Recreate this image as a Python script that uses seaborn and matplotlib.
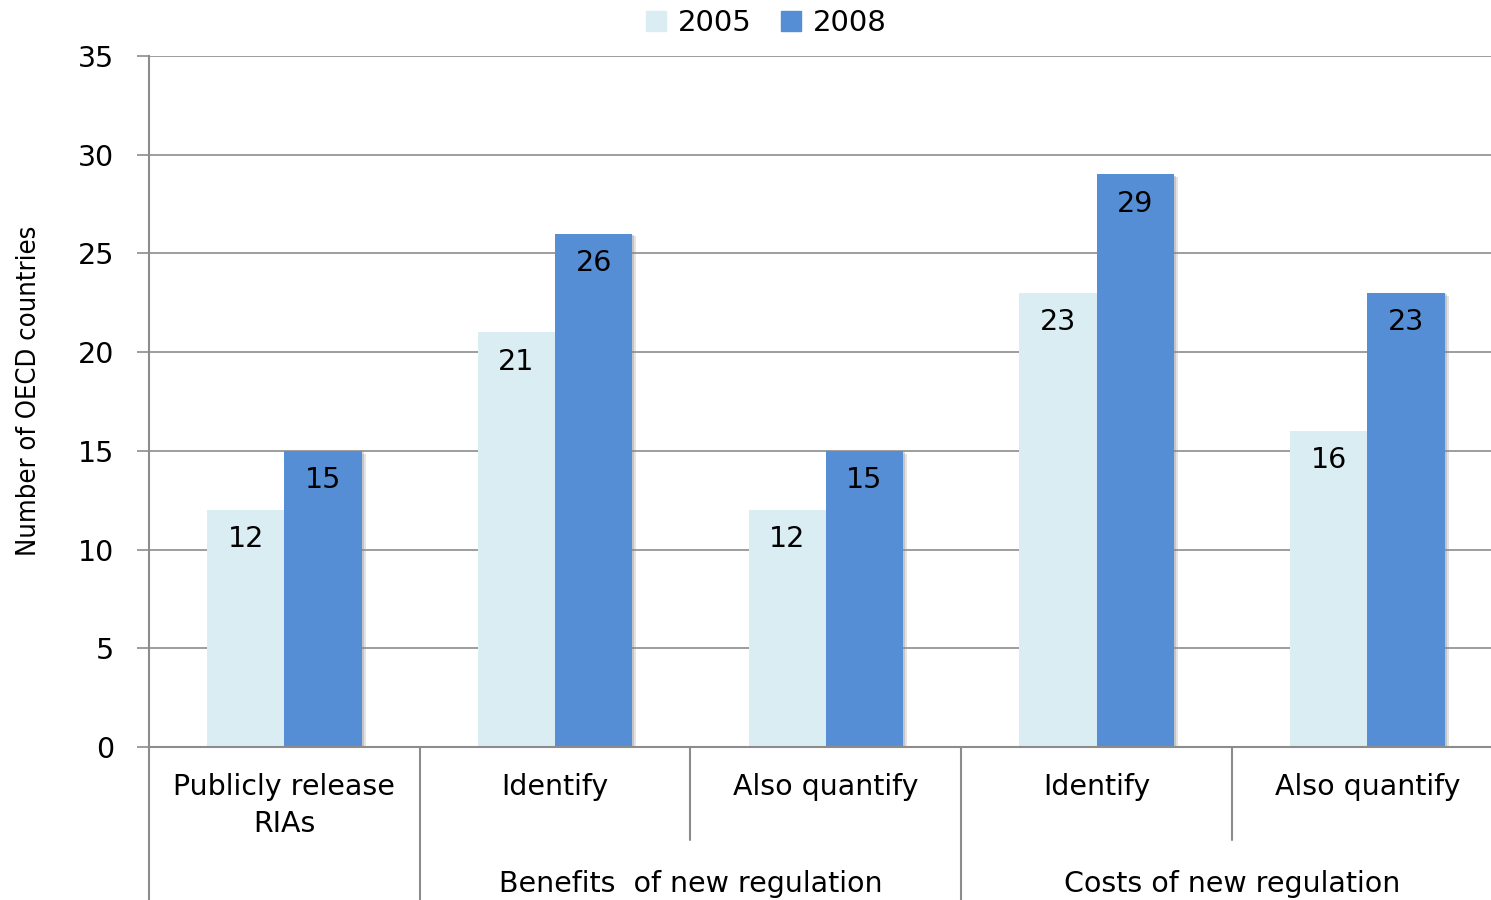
import matplotlib
matplotlib.use("Agg")
import matplotlib.pyplot as plt
import matplotlib.patheffects as pe
import matplotlib.transforms as mtransforms
import seaborn as sns
import pandas as pd

# Data
keys = ["release", "ben_identify", "ben_quantify", "cost_identify", "cost_quantify"]
tick_labels = ["Publicly release\nRIAs", "Identify", "Also quantify", "Identify", "Also quantify"]
values_2005 = [12, 21, 12, 23, 16]
values_2008 = [15, 26, 15, 29, 23]
years = ["2005", "2008"]
group_labels = ["Benefits  of new regulation", "Costs of new regulation"]
group_spans = [(1, 2), (3, 4)]

colors = {"2005": "#DAEDF3", "2008": "#558ED5"}

df = pd.DataFrame({
    "key": keys * 2,
    "year": [years[0]] * len(keys) + [years[1]] * len(keys),
    "value": values_2005 + values_2008,
})

sns.set_theme(style="white")
plt.rcParams["font.family"] = ["DejaVu Sans"]
plt.rcParams["text.color"] = "black"
plt.rcParams["axes.labelcolor"] = "black"
plt.rcParams["xtick.color"] = "black"
plt.rcParams["ytick.color"] = "black"

fig = plt.figure(figsize=(14.91, 9.0), dpi=100)
ax = fig.add_axes([0.0999, 0.17, 0.908, 0.7678])

sns.barplot(data=df, x="key", y="value", hue="year", order=keys, hue_order=years,
            palette=colors, width=0.57, gap=0, saturation=1, errorbar=None,
            linewidth=0, ax=ax, legend=False)

# soft drop shadow on the bars
shadow = [pe.SimplePatchShadow(offset=(3, -2), shadow_rgbFace="#909090", alpha=0.25),
          pe.SimplePatchShadow(offset=(1.5, -1), shadow_rgbFace="#808080", alpha=0.3),
          pe.Normal()]
for p in ax.patches:
    p.set_path_effects(shadow)

# value labels inside the top of each bar
for cont in ax.containers:
    for bar in cont:
        h = bar.get_height()
        ax.annotate(f"{h:.0f}", (bar.get_x() + bar.get_width() / 2, h),
                    xytext=(0, -21), textcoords="offset points",
                    ha="center", va="center", fontsize=20.5, color="black")

ax.set_xlim(-0.5, len(keys) - 0.5)
ax.set_ylim(0, 35)
ax.set_yticks(range(0, 36, 5))
ax.tick_params(axis="y", labelsize=20.5, length=9, width=1.2, color="#8C8C8C",
               labelcolor="black", direction="out", left=True, pad=16)
ax.grid(axis="y", color="#8C8C8C", linewidth=1.2)
ax.set_axisbelow(True)

ax.set_xticks(range(len(keys)))
ax.set_xticklabels(tick_labels, fontsize=20.5, linespacing=1.4)
ax.tick_params(axis="x", length=0, pad=19, labelcolor="black")
ax.set_xlabel("")
ax.set_ylabel("Number of OECD countries", fontsize=19.6,
              family="DejaVu Sans", fontstretch="condensed")
ax.yaxis.set_label_coords(-0.079, 0.515)

for side in ["top", "right"]:
    ax.spines[side].set_visible(False)
for side in ["left", "bottom"]:
    ax.spines[side].set_color("#8C8C8C")
    ax.spines[side].set_linewidth(1.5)

# separators below the category axis
trans = mtransforms.blended_transform_factory(ax.transData, ax.transAxes)
fig_bottom = -0.2214
short_bottom = -0.1346
n = len(keys)
for i in range(n):
    edge = i - 0.5
    in_group = any(a < i <= b for a, b in group_spans)
    y_end = short_bottom if in_group else fig_bottom
    ax.plot([edge, edge], [0, y_end], transform=trans, color="#8C8C8C",
            linewidth=1.5, clip_on=False)

for label, (a, b) in zip(group_labels, group_spans):
    ax.text((a + b) / 2, -0.198, label, transform=trans, ha="center", va="center",
            fontsize=20.5, color="black")

handles = [plt.Rectangle((0, 0), 1, 1, color=colors[y]) for y in years]
fig.legend(handles, years, loc="upper center", bbox_to_anchor=(766 / 1491, 1.019),
           ncol=2, frameon=False, fontsize=21, handlelength=0.7, handleheight=0.7,
           handletextpad=0.4, columnspacing=1.0)

fig.savefig("out.png", dpi=100)
